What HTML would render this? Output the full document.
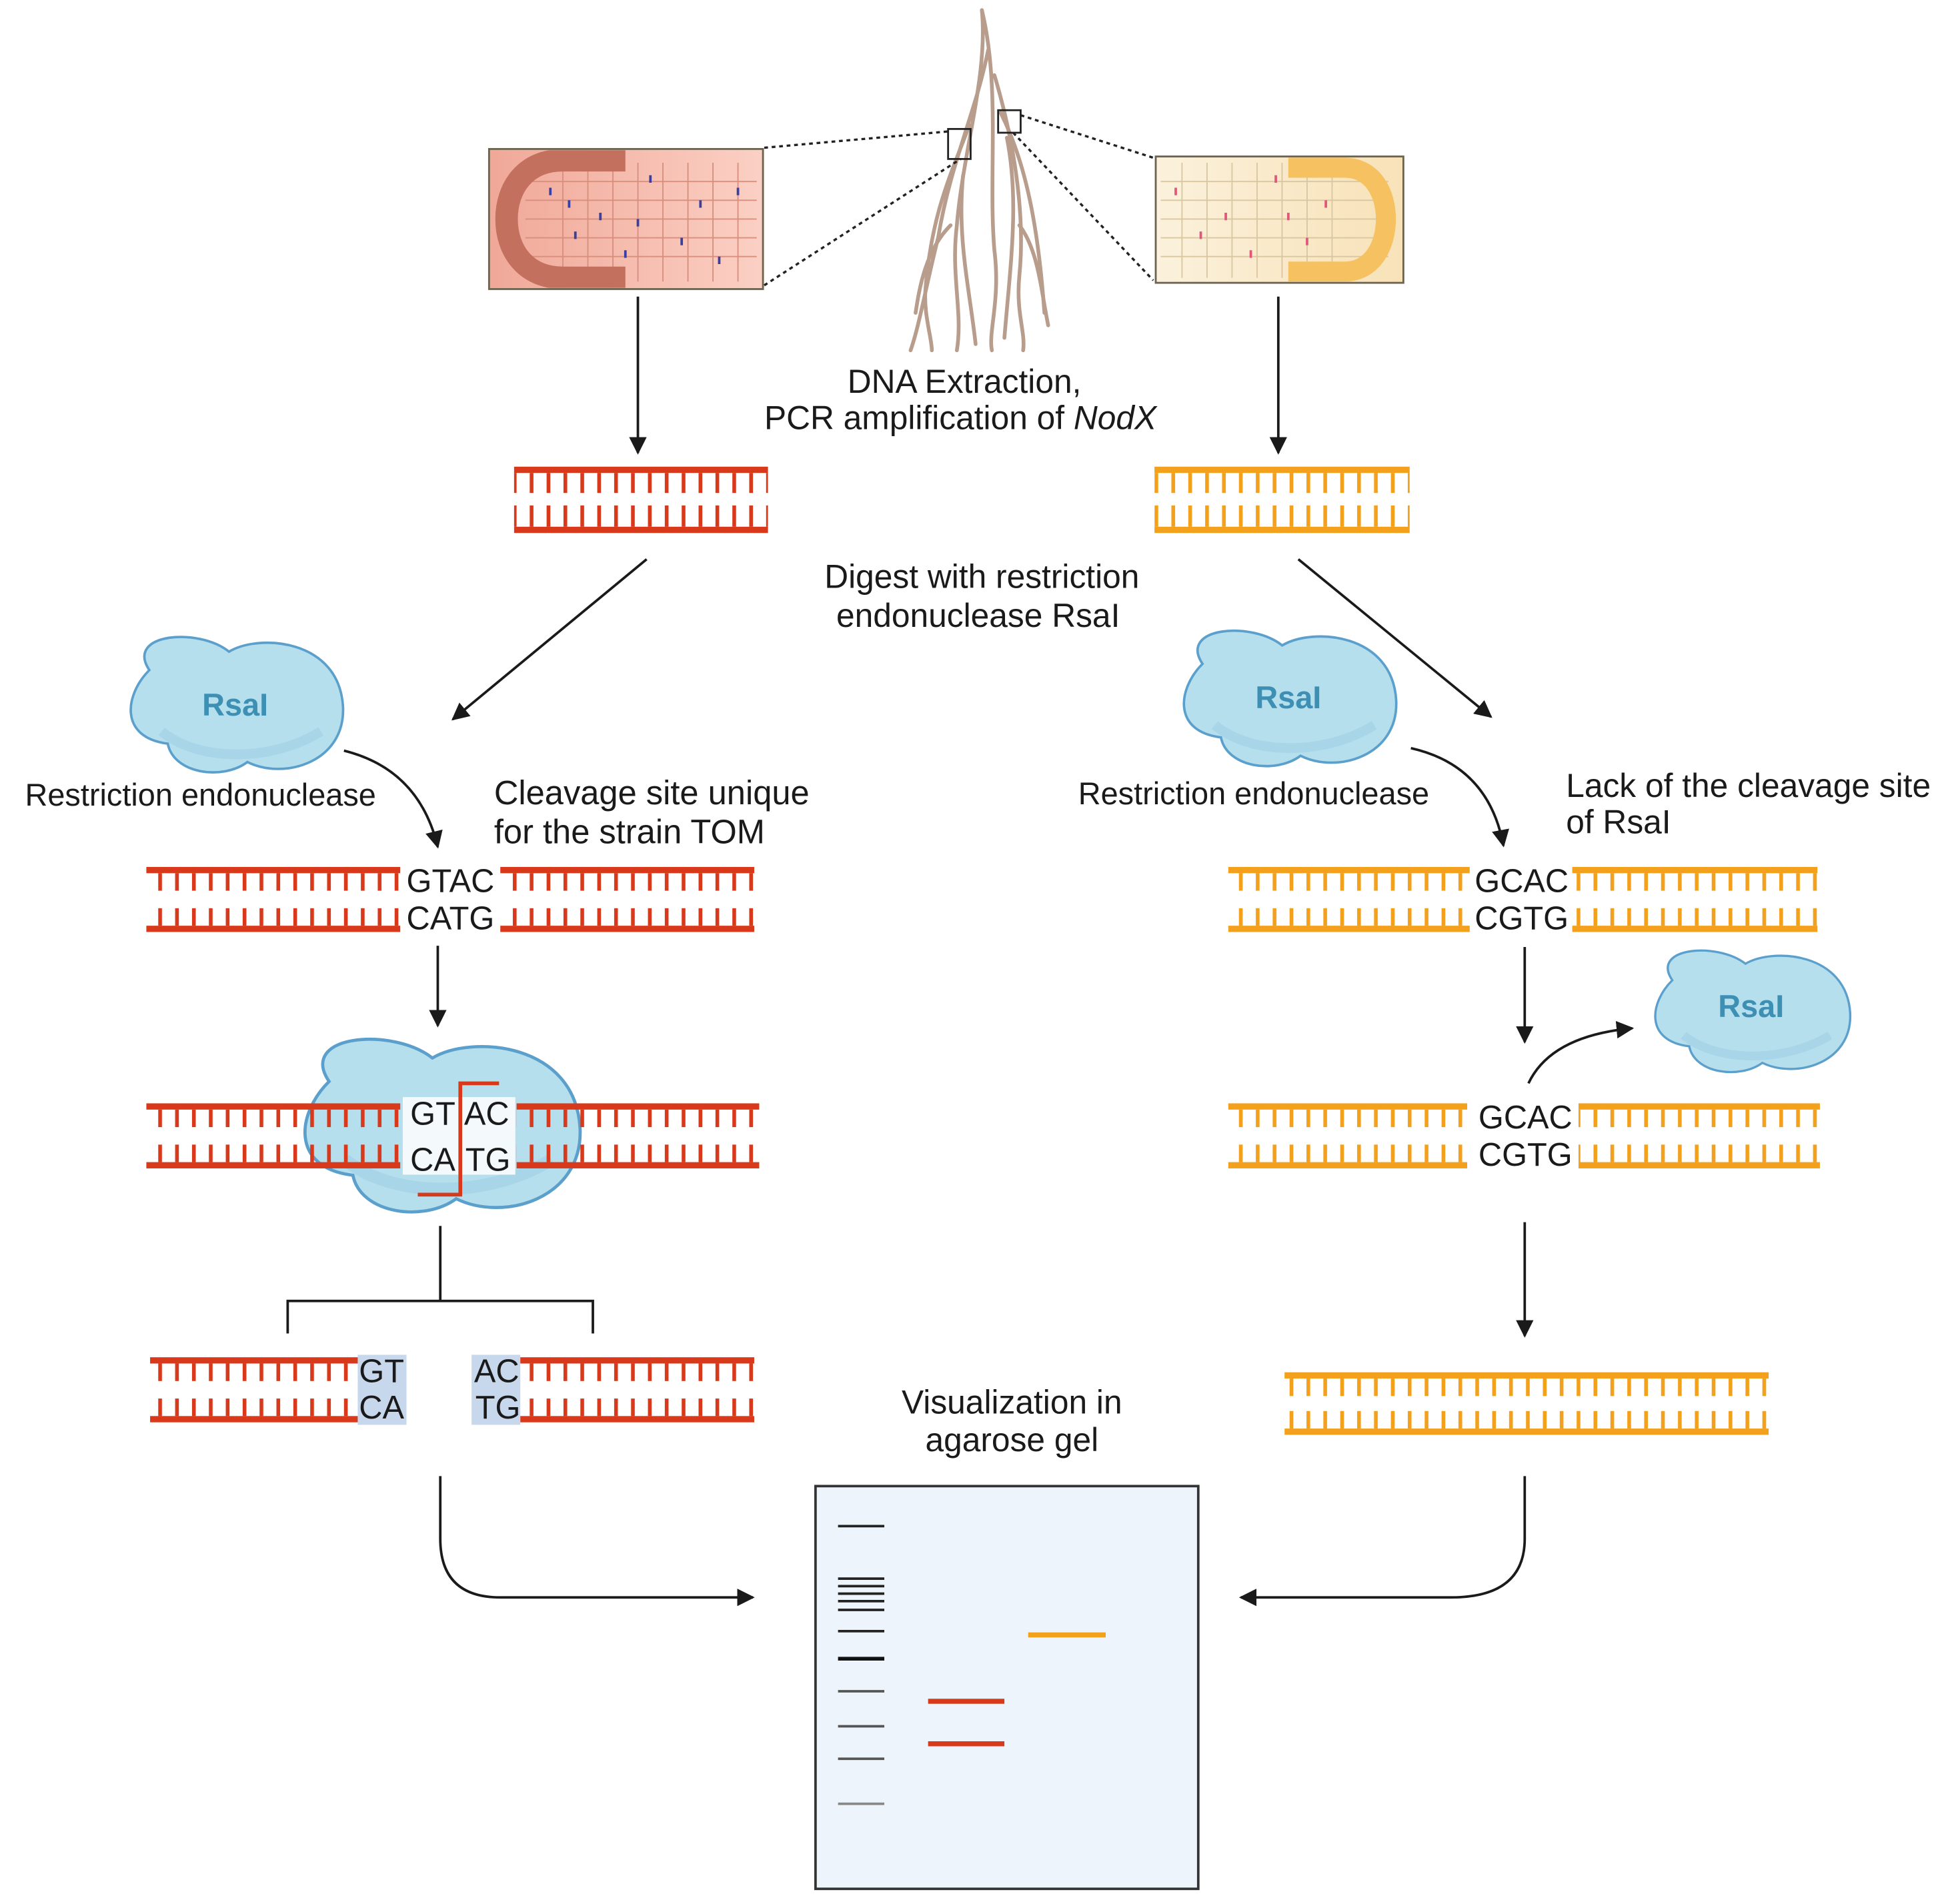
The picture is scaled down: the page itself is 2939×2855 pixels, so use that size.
<!DOCTYPE html>
<html><head><meta charset="utf-8"><style>
html,body{margin:0;padding:0;background:#fff}
svg{display:block}
text{font-family:"Liberation Sans",sans-serif;fill:#1a1a1a}
</style></head><body>
<svg width="2939" height="2855" viewBox="0 0 1567 1522" xmlns="http://www.w3.org/2000/svg">
<defs>
<pattern id="pr" patternUnits="userSpaceOnUse" width="13.5" height="20"><rect x="5" y="0" width="3" height="20" fill="#d8391b"/></pattern>
<pattern id="po" patternUnits="userSpaceOnUse" width="13.5" height="20"><rect x="5" y="0" width="3" height="20" fill="#f3a01c"/></pattern>
<marker id="ah" viewBox="0 0 10 10" refX="9" refY="5" markerWidth="7" markerHeight="7" orient="auto"><path d="M0,0 L10,5 L0,10 Z" fill="#1a1a1a"/></marker>
<linearGradient id="gl" x1="0" x2="1"><stop offset="0" stop-color="#f0a898"/><stop offset="1" stop-color="#fbd0c4"/></linearGradient>
<linearGradient id="gr" x1="0" x2="1"><stop offset="0" stop-color="#fbf1dc"/><stop offset="1" stop-color="#f8e2b8"/></linearGradient>
<clipPath id="cl"><rect x="392" y="120" width="217" height="110"/></clipPath>
<clipPath id="cr"><rect x="925" y="126" width="196" height="99"/></clipPath>
<g id="blob"><path d="M-70,-30 C-90,-60 -30,-65 -5,-45 C20,-60 85,-55 88,0 C90,45 40,60 10,45 C-10,60 -50,55 -55,30 C-95,25 -90,-10 -70,-30 Z" fill="#b6dfee" stroke="#5b9fcc" stroke-width="2"/><path d="M-60,20 C-30,45 30,45 70,20" fill="none" stroke="#a3d2e6" stroke-width="8" opacity="0.7"/></g>
</defs>

<g stroke="#b89c8c" stroke-width="3" fill="none" stroke-linecap="round">
<path d="M785,8 C790,60 770,120 765,180 C760,220 770,250 765,280"/>
<path d="M785,8 C800,70 790,140 795,200 C800,240 790,265 793,280"/>
<path d="M790,40 C780,90 760,130 750,190 C740,230 735,260 728,280"/>
<path d="M795,60 C810,110 820,170 815,220 C812,250 820,265 818,280"/>
<path d="M800,90 C820,130 830,180 835,250"/>
<path d="M775,100 C760,140 745,170 740,230 C738,250 745,270 745,280"/>
<path d="M805,110 C815,160 808,210 803,270"/>
<path d="M770,140 C765,190 775,230 780,275"/>
<path d="M760,180 C740,200 735,230 732,250"/>
<path d="M815,180 C830,200 832,230 838,260"/>
</g>
<rect x="758" y="103" width="18" height="24" fill="none" stroke="#222" stroke-width="1.5"/>
<rect x="798" y="88" width="18" height="18" fill="none" stroke="#222" stroke-width="1.5"/>
<g stroke="#222" stroke-width="1.8" stroke-dasharray="3,3" fill="none">
<path d="M611,118 L758,105"/><path d="M611,228 L768,127"/>
<path d="M816,92 L922,126"/><path d="M810,106 L922,224"/>
</g>
<rect x="391" y="119" width="219" height="112" fill="url(#gl)"/>
<g clip-path="url(#cl)">
<g fill="none" stroke="#d88f7e" stroke-width="1">
<path d="M450,130 V225 M470,130 V225 M490,130 V225 M510,130 V225 M530,130 V225 M550,130 V225 M570,130 V225 M590,130 V225"/>
<path d="M420,145 H605 M420,160 H605 M420,175 H605 M420,190 H605 M420,205 H605"/>
</g>
<path d="M500,128 H450 C420,128 405,150 405,175 C405,200 420,222 450,222 H500" fill="none" stroke="#c4705e" stroke-width="18"/>
</g>
<rect x="391" y="119" width="219" height="112" fill="none" stroke="#6b6250" stroke-width="1.5"/>
<g stroke="#3a3fa0" stroke-width="2"><path d="M440,150 v6 M480,170 v6 M520,140 v6 M545,190 v6 M500,200 v6 M560,160 v6 M460,185 v6 M590,150 v6 M575,205 v6 M455,160 v6 M510,175 v6"/></g>
<rect x="924" y="125" width="198" height="101" fill="url(#gr)"/>
<g clip-path="url(#cr)">
<g fill="none" stroke="#d8c7a0" stroke-width="1">
<path d="M945,130 V222 M965,130 V222 M985,130 V222 M1005,130 V222 M1025,130 V222 M1045,130 V222 M1065,130 V222"/>
<path d="M928,145 H1110 M928,160 H1110 M928,175 H1110 M928,190 H1110 M928,205 H1110"/>
</g>
<path d="M1030,134 H1075 C1098,134 1108,155 1108,175 C1108,195 1098,217 1075,217 H1030" fill="none" stroke="#f6c160" stroke-width="16"/>
</g>
<rect x="924" y="125" width="198" height="101" fill="none" stroke="#6b6250" stroke-width="1.5"/>
<g stroke="#e0577a" stroke-width="2"><path d="M940,150 v6 M980,170 v6 M1020,140 v6 M1045,190 v6 M1000,200 v6 M1060,160 v6 M960,185 v6 M1030,170 v6"/></g>

<g stroke="#1a1a1a" stroke-width="2" fill="none" marker-end="url(#ah)">
<path d="M510,237 V362"/><path d="M1022,237 V362"/>
<path d="M517,447 L362,575"/><path d="M1038,447 L1192,573"/>
<path d="M275,600 Q335,615 350,677"/><path d="M1128,598 Q1190,612 1202,676"/>
<path d="M350,756 V820"/><path d="M1219,757 V833"/><path d="M1219,977 V1068"/>
<path d="M1222,866 Q1240,828 1305,822"/>
<path d="M352,1180 V1230 Q352,1277 400,1277 H602"/>
<path d="M1219,1180 V1230 Q1219,1277 1160,1277 H992"/>
</g>
<path d="M352,980 V1040 M230,1066 V1040 H474 V1066" stroke="#1a1a1a" stroke-width="2" fill="none"/>

<text x="771" y="314" font-size="26.5" text-anchor="middle">DNA Extraction,</text>
<text x="611" y="343" font-size="26.5">PCR amplification of <tspan font-style="italic">NodX</tspan></text>
<text x="785" y="470" font-size="26.5" text-anchor="middle">Digest with restriction</text>
<text x="782" y="501" font-size="26.5" text-anchor="middle">endonuclease RsaI</text>
<text x="20" y="644" font-size="25">Restriction endonuclease</text>
<text x="395" y="643" font-size="27">Cleavage site unique</text>
<text x="395" y="674" font-size="27">for the strain TOM</text>
<text x="862" y="643" font-size="25">Restriction endonuclease</text>
<text x="1252" y="637" font-size="26.5">Lack of the cleavage site</text>
<text x="1252" y="666" font-size="26.5">of RsaI</text>
<text x="809" y="1130" font-size="26.5" text-anchor="middle">Visualization in</text>
<text x="809" y="1160" font-size="26.5" text-anchor="middle">agarose gel</text>

<g transform="translate(188,565) scale(0.98,0.98)"><use href="#blob"/></g>
<text x="188" y="572" font-size="25" font-weight="bold" text-anchor="middle" style="fill:#3d8fb3">RsaI</text>
<g transform="translate(1030,560) scale(0.98,0.98)"><use href="#blob"/></g>
<text x="1030" y="566" font-size="25" font-weight="bold" text-anchor="middle" style="fill:#3d8fb3">RsaI</text>
<g transform="translate(1400,810) scale(0.9,0.88)"><use href="#blob"/></g>
<text x="1400" y="813" font-size="25" font-weight="bold" text-anchor="middle" style="fill:#3d8fb3">RsaI</text>
<g transform="translate(352,902) scale(1.27,1.25)"><use href="#blob"/></g>

<g>
<g><rect x="411" y="373" width="203" height="5" fill="#d8391b"/><rect x="411" y="378" width="203" height="16" fill="url(#pr)"/><rect x="411" y="404" width="203" height="17" fill="url(#pr)"/><rect x="411" y="421" width="203" height="5" fill="#d8391b"/></g>
<g><rect x="923" y="373" width="204" height="5" fill="#f3a01c"/><rect x="923" y="378" width="204" height="16" fill="url(#po)"/><rect x="923" y="404" width="204" height="17" fill="url(#po)"/><rect x="923" y="421" width="204" height="5" fill="#f3a01c"/></g>
<g><rect x="117" y="693" width="203" height="5" fill="#d8391b"/><rect x="117" y="698" width="203" height="14" fill="url(#pr)"/><rect x="117" y="726" width="203" height="14" fill="url(#pr)"/><rect x="117" y="740" width="203" height="5" fill="#d8391b"/></g>
<g><rect x="400" y="693" width="203" height="5" fill="#d8391b"/><rect x="400" y="698" width="203" height="14" fill="url(#pr)"/><rect x="400" y="726" width="203" height="14" fill="url(#pr)"/><rect x="400" y="740" width="203" height="5" fill="#d8391b"/></g>
<text x="325" y="713" font-size="26">GTAC</text><text x="325" y="743" font-size="26">CATG</text>
<g><rect x="982" y="693" width="193" height="5" fill="#f3a01c"/><rect x="982" y="698" width="193" height="14" fill="url(#po)"/><rect x="982" y="726" width="193" height="14" fill="url(#po)"/><rect x="982" y="740" width="193" height="5" fill="#f3a01c"/></g>
<g><rect x="1257" y="693" width="196" height="5" fill="#f3a01c"/><rect x="1257" y="698" width="196" height="14" fill="url(#po)"/><rect x="1257" y="726" width="196" height="14" fill="url(#po)"/><rect x="1257" y="740" width="196" height="5" fill="#f3a01c"/></g>
<text x="1179" y="713" font-size="26">GCAC</text><text x="1179" y="743" font-size="26">CGTG</text>
<g><rect x="117" y="882" width="203" height="5" fill="#d8391b"/><rect x="117" y="887" width="203" height="14" fill="url(#pr)"/><rect x="117" y="915" width="203" height="14" fill="url(#pr)"/><rect x="117" y="929" width="203" height="5" fill="#d8391b"/></g>
<rect x="322" y="877" width="90" height="62" fill="#f4f9fc"/>
<g><rect x="413" y="882" width="194" height="5" fill="#d8391b"/><rect x="413" y="887" width="194" height="14" fill="url(#pr)"/><rect x="413" y="915" width="194" height="14" fill="url(#pr)"/><rect x="413" y="929" width="194" height="5" fill="#d8391b"/></g>
<text x="328" y="899" font-size="26">GT</text><text x="371" y="899" font-size="26">AC</text>
<text x="328" y="936" font-size="26">CA</text><text x="372" y="936" font-size="26">TG</text>
<path d="M399,866 H368 V955 H334" fill="none" stroke="#d8391b" stroke-width="3"/>
<g><rect x="982" y="882" width="191" height="5" fill="#f3a01c"/><rect x="982" y="887" width="191" height="14" fill="url(#po)"/><rect x="982" y="915" width="191" height="14" fill="url(#po)"/><rect x="982" y="929" width="191" height="5" fill="#f3a01c"/></g>
<g><rect x="1262" y="882" width="193" height="5" fill="#f3a01c"/><rect x="1262" y="887" width="193" height="14" fill="url(#po)"/><rect x="1262" y="915" width="193" height="14" fill="url(#po)"/><rect x="1262" y="929" width="193" height="5" fill="#f3a01c"/></g>
<text x="1182" y="902" font-size="26">GCAC</text><text x="1182" y="932" font-size="26">CGTG</text>
<rect x="286" y="1083" width="39" height="56" fill="#c8d8ec"/><rect x="377" y="1083" width="39" height="56" fill="#c8d8ec"/>
<g><rect x="120" y="1085" width="166" height="5" fill="#d8391b"/><rect x="120" y="1090" width="166" height="14" fill="url(#pr)"/><rect x="120" y="1118" width="166" height="14" fill="url(#pr)"/><rect x="120" y="1132" width="166" height="5" fill="#d8391b"/></g>
<g><rect x="416" y="1085" width="187" height="5" fill="#d8391b"/><rect x="416" y="1090" width="187" height="14" fill="url(#pr)"/><rect x="416" y="1118" width="187" height="14" fill="url(#pr)"/><rect x="416" y="1132" width="187" height="5" fill="#d8391b"/></g>
<text x="287" y="1105" font-size="26">GT</text><text x="287" y="1134" font-size="26">CA</text>
<text x="379" y="1105" font-size="26">AC</text><text x="380" y="1134" font-size="26">TG</text>
<g><rect x="1027" y="1097" width="387" height="5" fill="#f3a01c"/><rect x="1027" y="1102" width="387" height="14" fill="url(#po)"/><rect x="1027" y="1128" width="387" height="14" fill="url(#po)"/><rect x="1027" y="1142" width="387" height="5" fill="#f3a01c"/></g>
</g>

<rect x="652" y="1188" width="306" height="322" fill="#edf4fb" stroke="#333" stroke-width="2"/>
<g stroke-width="2">
<path d="M670,1220 H707 M670,1262 H707 M670,1268 H707 M670,1274 H707 M670,1280 H707 M670,1287 H707 M670,1304 H707" stroke="#222"/>
<path d="M670,1326 H707" stroke="#111" stroke-width="3"/>
<path d="M670,1352 H707 M670,1380 H707 M670,1406 H707" stroke="#555"/>
<path d="M670,1442 H707" stroke="#888"/>
</g>
<path d="M742,1360 H803 M742,1394 H803" stroke="#d8391b" stroke-width="4"/>
<path d="M822,1307 H884" stroke="#f3a01c" stroke-width="4"/>
</svg>
</body></html>
